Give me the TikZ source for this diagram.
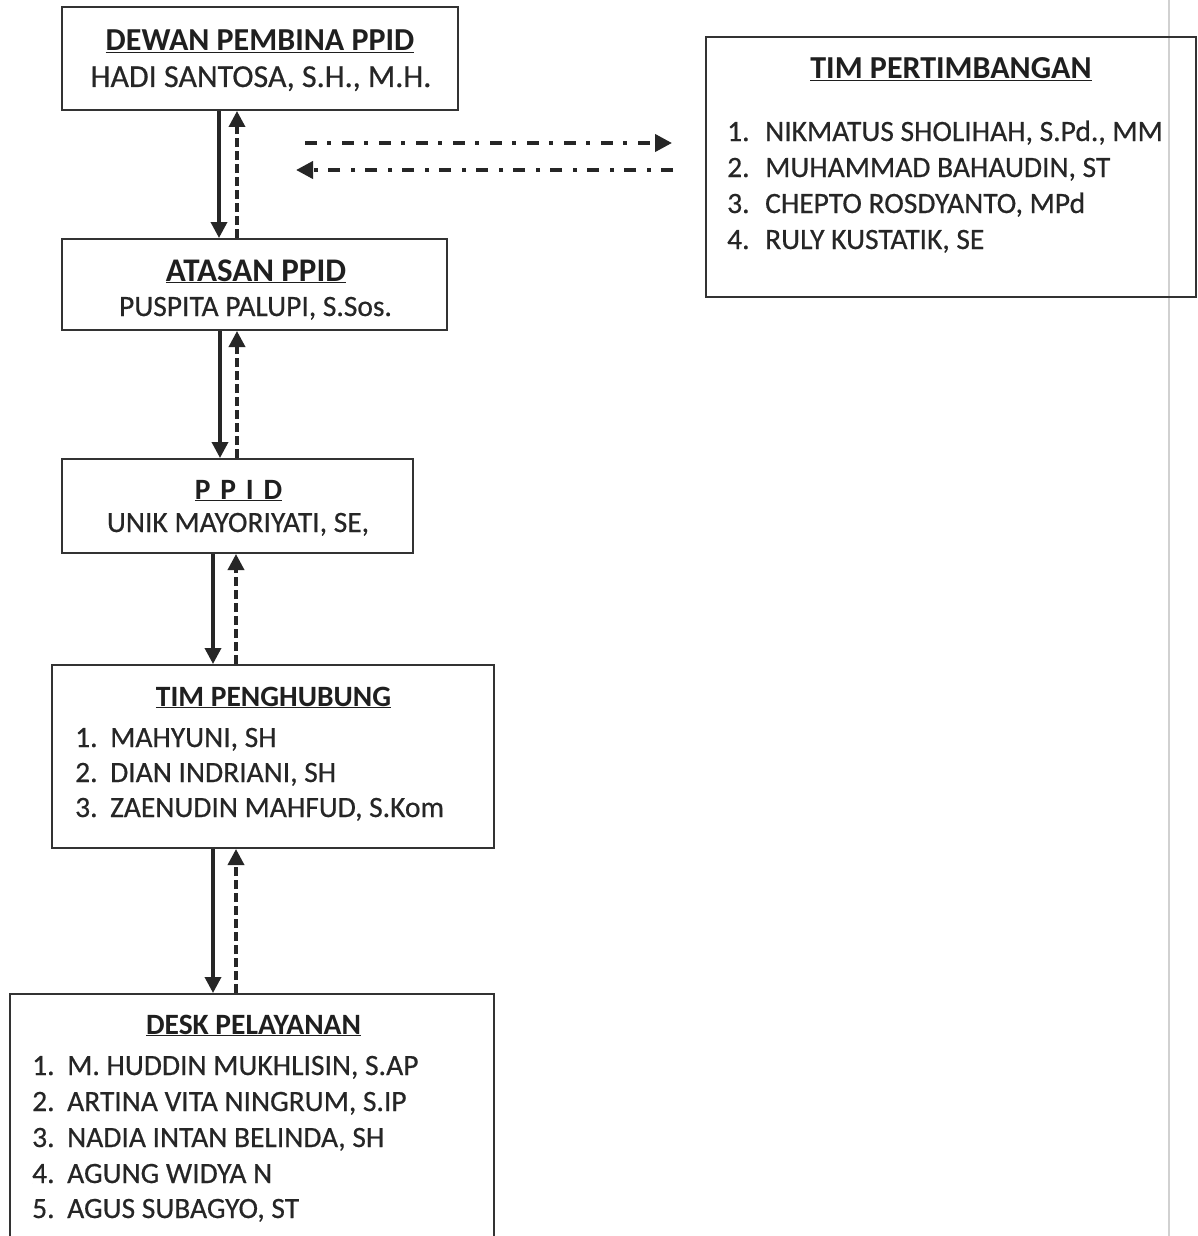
\documentclass[tikz,border=0pt]{standalone}
\usepackage{fontspec}
\setmainfont{Carlito}
\newfontfamily\rgfont{Carlito}[FakeBold=0.5]
\usetikzlibrary{arrows.meta}
\tikzset{
  box/.style={draw=black!80, line width=2pt, rectangle, inner sep=0pt},
  ttl/.style={anchor=base, font=\fontsize{29.5}{34}\selectfont\bfseries, text=black!88},
  nm/.style={anchor=base, font=\fontsize{29.5}{34}\selectfont\rgfont, text=black!85},
  itm/.style={anchor=base west, font=\fontsize{29.5}{34}\selectfont\rgfont, text=black!85, inner sep=0pt},
  down/.style={line width=3.5pt, draw=black!85, -{Triangle[length=16pt,width=16pt]}},
  up/.style={line width=3.5pt, draw=black!85, dash pattern=on 9pt off 4pt, -{Triangle[length=16pt,width=16pt]}},
  dashdot/.style={line width=4pt, draw=black!85, dash pattern=on 12pt off 10pt on 4pt off 11pt, -{Triangle[length=17pt,width=17pt]}},
}
\newcommand{\numA}[1]{\makebox[35pt][l]{#1}}
\newcommand{\numB}[1]{\makebox[38pt][l]{#1}}
\begin{document}
\begin{tikzpicture}[x=1pt,y=-1pt]
\useasboundingbox (0,0) rectangle (1198,1236);
\clip (0,0) rectangle (1198,1236);
\fill[white] (0,0) rectangle (1198,1236);
% scan fold line
\draw[black!18, line width=2pt] (1169,0) -- (1169,1236);

% boxes
\node[box, minimum width=396pt, minimum height=103pt] (dewan) at (260,58.5) {};
\node[box, minimum width=385pt, minimum height=91pt] (atasan) at (254.5,284.5) {};
\node[box, minimum width=351pt, minimum height=94pt] (ppid) at (237.5,506) {};
\node[box, minimum width=442pt, minimum height=183pt] (peng) at (273,756.5) {};
\node[box, minimum width=484pt, minimum height=256pt] (desk) at (252,1122) {};
\node[box, minimum width=490pt, minimum height=260pt] (pert) at (951,167) {};

% texts
\node[ttl, font=\fontsize{32}{36}\selectfont\bfseries] (t1) at (260,51) {\underline{DEWAN PEMBINA PPID}};
\node[nm, font=\fontsize{32}{36}\selectfont\rgfont] (n1) at (261,87) {HADI SANTOSA, S.H., M.H.};
\node[ttl, font=\fontsize{33}{37}\selectfont\bfseries] (t2) at (256,281) {\underline{ATASAN PPID}};
\node[nm] (n2) at (255.5,316) {PUSPITA PALUPI, S.Sos.};
\node[ttl] (t3) at (238.5,499) {\underline{P\,\,P\,\,I\,\,D}};
\node[nm] (n3) at (238,532) {UNIK MAYORIYATI, SE,};

\node[ttl] (t4) at (273.5,706) {\underline{TIM PENGHUBUNG}};
\node[itm] (p1) at (75,747) {\numA{1.}MAHYUNI, SH};
\node[itm] (p2) at (75,782) {\numA{2.}DIAN INDRIANI, SH};
\node[itm] (p3) at (75,817) {\numA{3.}ZAENUDIN MAHFUD, S.Kom};

\node[ttl] (t5) at (253.5,1034) {\underline{DESK PELAYANAN}};
\node[itm] (d1) at (32,1075) {\numA{1.}M. HUDDIN MUKHLISIN, S.AP};
\node[itm] (d2) at (32,1111) {\numA{2.}ARTINA VITA NINGRUM, S.IP};
\node[itm] (d3) at (32,1147) {\numA{3.}NADIA INTAN BELINDA, SH};
\node[itm] (d4) at (32,1183) {\numA{4.}AGUNG WIDYA N};
\node[itm] (d5) at (32,1218) {\numA{5.}AGUS SUBAGYO, ST};

\node[ttl, font=\fontsize{32}{36}\selectfont\bfseries] (t6) at (951,79) {\underline{TIM PERTIMBANGAN}};
\node[itm] (q1) at (727,141) {\numB{1.}NIKMATUS SHOLIHAH, S.Pd., MM};
\node[itm] (q2) at (727,177) {\numB{2.}MUHAMMAD BAHAUDIN, ST};
\node[itm] (q3) at (727,213) {\numB{3.}CHEPTO ROSDYANTO, MPd};
\node[itm] (q4) at (727,249) {\numB{4.}RULY KUSTATIK, SE};

% vertical arrows
\draw[down] (dewan.south -| 219,0) -- (atasan.north -| 219,0);
\draw[up] (atasan.north -| 237,0) -- (dewan.south -| 237,0);
\draw[down] (atasan.south -| 220,0) -- (ppid.north -| 220,0);
\draw[up] (ppid.north -| 237,0) -- (atasan.south -| 237,0);
\draw[down] (ppid.south -| 213,0) -- (peng.north -| 213,0);
\draw[up] (peng.north -| 236,0) -- (ppid.south -| 236,0);
\draw[down] (peng.south -| 213,0) -- (desk.north -| 213,0);
\draw[up] (desk.north -| 236,0) -- (peng.south -| 236,0);

% dash-dot arrows
\coordinate (a1s) at (305,143);
\coordinate (a1e) at (672,143);
\coordinate (a2s) at (673,170);
\coordinate (a2e) at (296,170);
\draw[dashdot] (a1s) -- (a1e);
\draw[dashdot] (a2s) -- (a2e);
\end{tikzpicture}
\end{document}
